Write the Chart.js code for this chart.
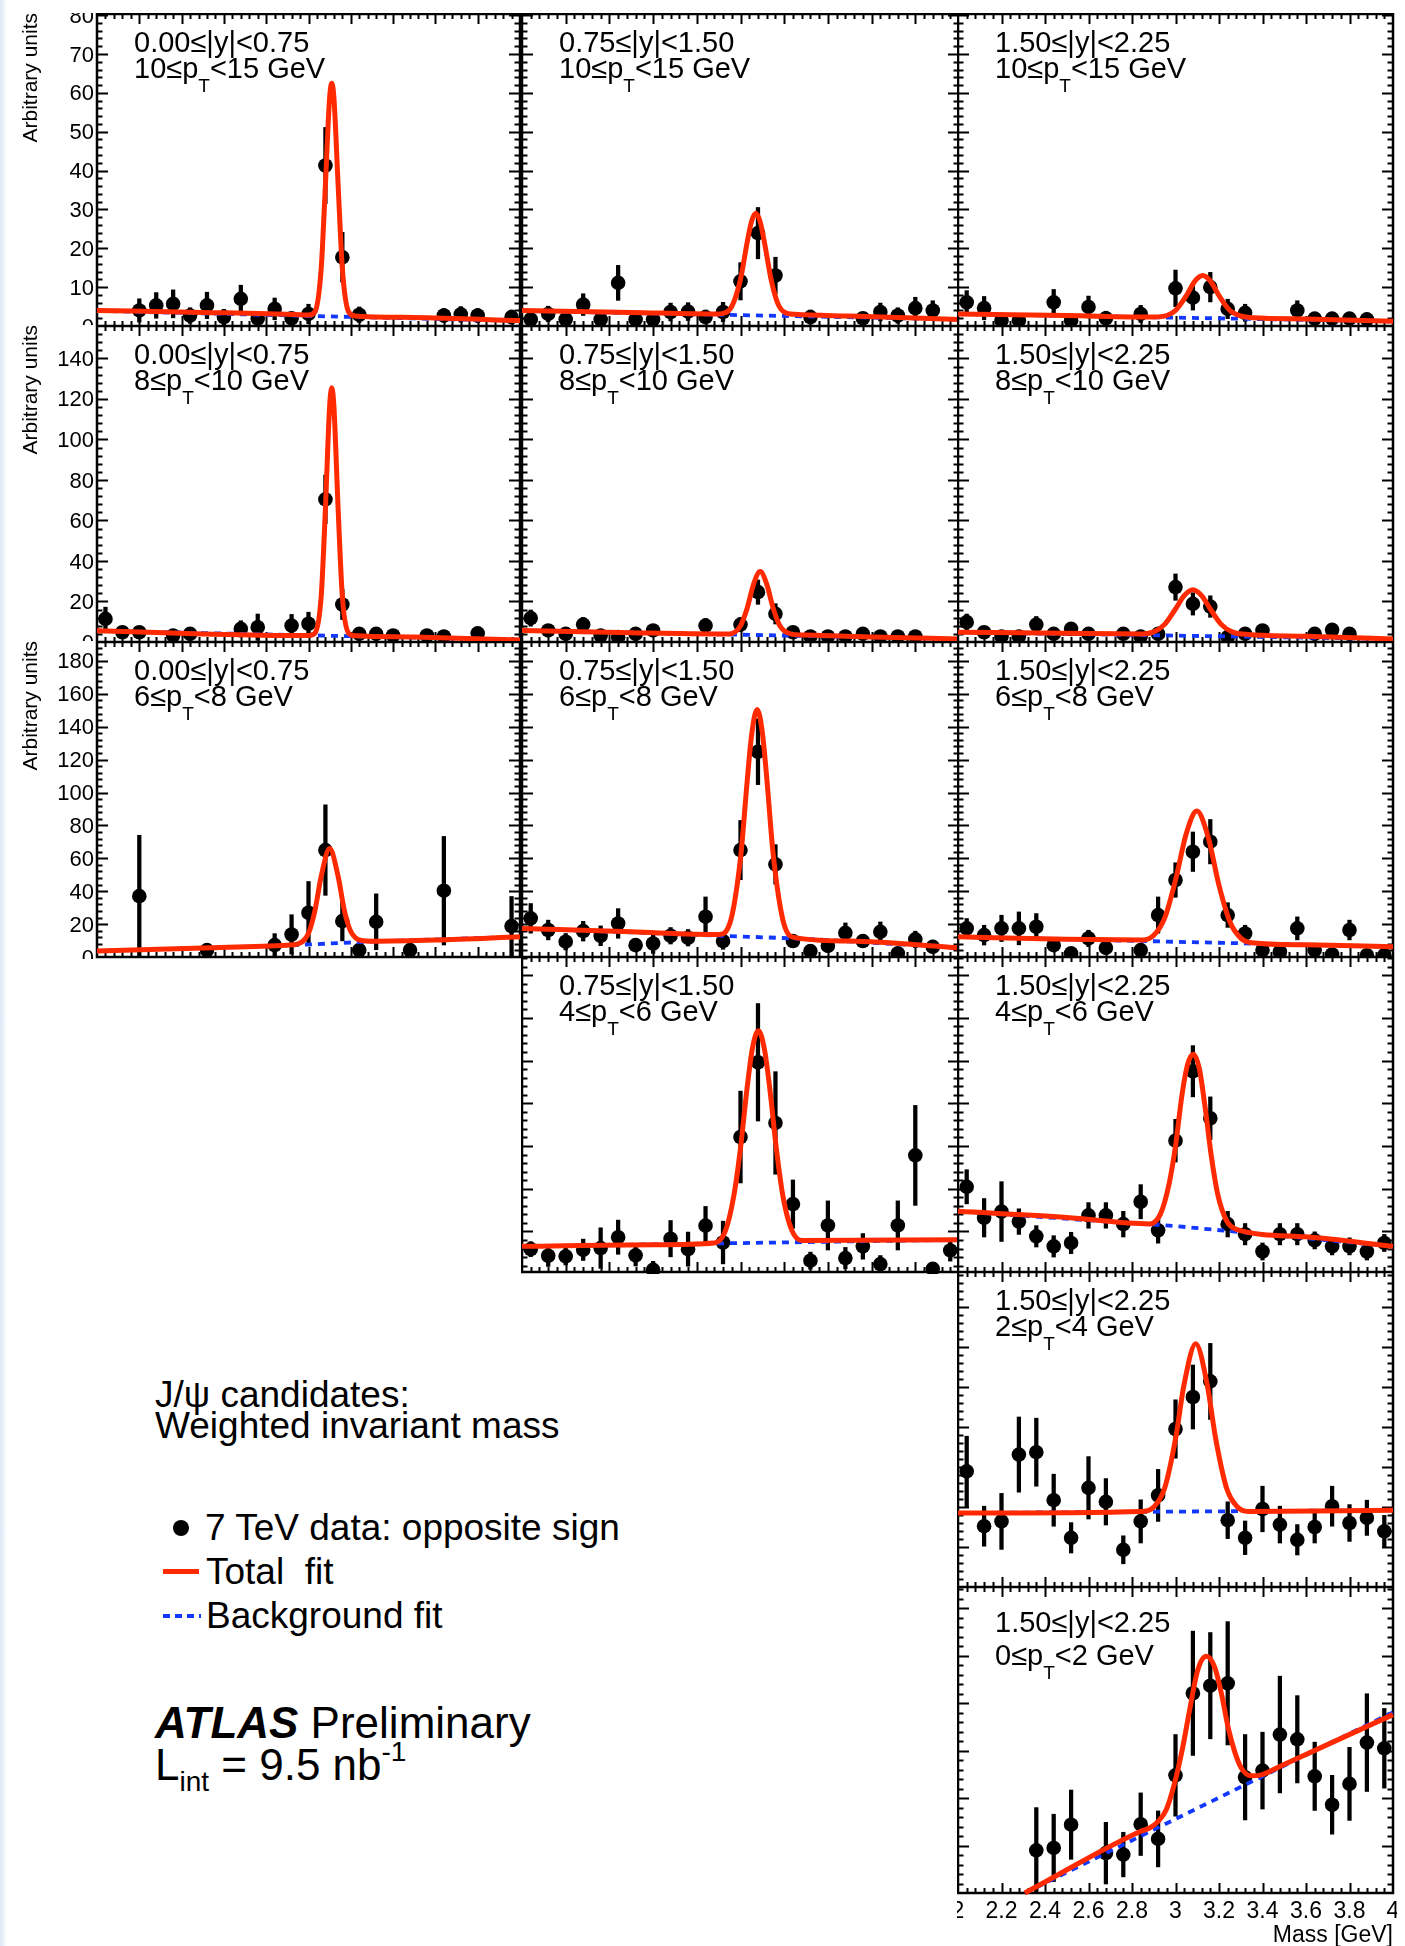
<!DOCTYPE html>
<html lang="en">
<head>
<meta charset="utf-8">
<title>J/ψ candidates: weighted invariant mass</title>
<script src="https://cdn.jsdelivr.net/npm/chart.js@4.4.1/dist/chart.umd.min.js"></script>
<style>
  html, body { margin: 0; padding: 0; background: #fff; }
  body { position: relative; width: 1405px; height: 1946px; overflow: hidden;
         font-family: "Liberation Sans", Arial, Helvetica, sans-serif; color: #000; }
  canvas { position: absolute; display: block; }
  .t { position: absolute; white-space: pre; color: #000; }
  .edge { position: absolute; left: 0; top: 0; width: 7px; height: 1946px; z-index: 5;
          background: linear-gradient(to right, #dde6f5, rgba(255,255,255,0)); }
</style>
</head>
<body>
<div class="edge"></div>
<script>
// ---------------------------------------------------------------------------
// Mass bin centres (GeV) shared by all histograms, and axis tick values
// ---------------------------------------------------------------------------
const MASS_BINS = [2.04, 2.12, 2.20, 2.28, 2.36, 2.44, 2.52, 2.60, 2.68, 2.76, 2.84, 2.92,
                   3.00, 3.08, 3.16, 3.24, 3.32, 3.40, 3.48, 3.56, 3.64, 3.72, 3.80, 3.88, 3.96];
const MASS_TICKS = [2, 2.2, 2.4, 2.6, 2.8, 3, 3.2, 3.4, 3.6, 3.8, 4];
const MASS_TICK_LABELS = ["2", "2.2", "2.4", "2.6", "2.8", "3", "3.2", "3.4", "3.6", "3.8", "4"];
const COUNT_TICKS_PT10 = [0, 10, 20, 30, 40, 50, 60, 70, 80];
const COUNT_TICKS_PT8  = [0, 20, 40, 60, 80, 100, 120, 140];
const COUNT_TICKS_PT6  = [0, 20, 40, 60, 80, 100, 120, 140, 160, 180];
const COUNT_TICKS_PT4  = [20, 40, 60, 80, 100, 120, 140];
const COUNT_TICKS_PT2  = [0, 10, 20, 30, 40, 50, 60, 70];
const COUNT_TICKS_PT0  = [0, 10, 20, 30, 40, 50, 60];

const RAPIDITY_BINS = ["0.00≤|y|<0.75", "0.75≤|y|<1.50", "1.50≤|y|<2.25"];
const PT_LOW  = ["10", "8", "6", "4", "2", "0"];
const PT_HIGH = ["15", "10", "8", "6", "4", "2"];

// ---------------------------------------------------------------------------
// Candidates per mass bin (arbitrary units), their errors, and fitted curves
// ---------------------------------------------------------------------------
// 0.00<=|y|<0.75, 10<=pT<15 GeV
const Y1_PT10       = [null, null, 4.0, 5.3, 5.7, 2.7, 5.3, 2.3, 7.0, 1.9, 4.4, 2.0, 3.1, 41.3, 17.7, 2.9, null, null, null, null, 2.7, 3.0, 2.7, null, 2.3];
const Y1_PT10_ERR   = [null, null, 3.0, 3.3, 3.6, 2.0, 3.4, 2.0, 3.5, 1.5, 2.8, 1.5, 2.5, 9.8, 6.4, 2.0, null, null, null, null, 1.8, 2.0, 1.8, null, 1.8];
const Y1_PT10_FIT_M = [2.00, 2.50, 2.96, 3.00, 3.03, 3.06, 3.08, 3.10, 3.11, 3.12, 3.14, 3.16, 3.19, 3.22, 3.50, 4.00];
const Y1_PT10_FIT   = [4.0, 3.5, 2.9, 2.8, 3.6, 14.8, 36.4, 58.9, 62.5, 58.9, 36.4, 14.8, 3.6, 2.6, 2.2, 1.4];
const Y1_PT10_BKG_M = [2.00, 4.00];
const Y1_PT10_BKG   = [3.9, 1.3];

// 0.75<=|y|<1.50, 10<=pT<15 GeV
const Y2_PT10       = [1.7, 3.1, 1.7, 5.5, 1.7, 11.1, 1.7, 1.7, 3.6, 3.7, 2.3, 3.6, 11.5, 23.9, 13.0, null, 2.3, null, null, 2.0, 3.6, 2.7, 4.6, 4.0, null];
const Y2_PT10_ERR   = [1.5, 2.0, 1.5, 2.8, 1.5, 4.5, 1.5, 1.5, 2.3, 2.3, 1.8, 2.5, 4.8, 6.6, 4.7, null, 1.8, null, null, 1.5, 2.3, 2.0, 2.8, 2.5, null];
const Y2_PT10_FIT_M = [2.00, 2.50, 2.90, 2.95, 3.00, 3.03, 3.05, 3.07, 3.09, 3.11, 3.14, 3.17, 3.20, 3.25, 3.50, 4.00];
const Y2_PT10_FIT   = [4.0, 3.5, 3.1, 4.2, 12.0, 21.4, 26.8, 29.0, 26.8, 21.4, 12.0, 5.9, 3.6, 3.0, 2.6, 1.7];
const Y2_PT10_BKG_M = [2.00, 4.00];
const Y2_PT10_BKG   = [3.9, 1.7];

// 1.50<=|y|<2.25, 10<=pT<15 GeV
const Y3_PT10       = [6.1, 4.6, 1.4, 1.4, null, 6.1, 1.4, 4.9, 2.0, null, 3.1, null, 9.7, 7.3, 10.0, 4.4, 3.4, null, null, 4.0, 1.9, 1.9, 1.9, 1.7, null];
const Y3_PT10_ERR   = [3.0, 3.0, 1.5, 1.5, null, 3.3, 1.5, 2.8, 1.8, null, 2.2, null, 4.7, 3.2, 3.8, 2.5, 2.2, null, null, 2.5, 1.6, 1.6, 1.6, 1.6, null];
const Y3_PT10_FIT_M = [2.00, 2.50, 2.90, 2.96, 3.00, 3.05, 3.09, 3.125, 3.16, 3.20, 3.25, 3.30, 3.36, 3.60, 4.00];
const Y3_PT10_FIT   = [3.1, 2.7, 2.3, 2.7, 4.0, 7.8, 11.6, 13.0, 11.6, 7.8, 4.0, 2.6, 2.1, 1.8, 1.2];
const Y3_PT10_BKG_M = [2.00, 4.00];
const Y3_PT10_BKG   = [3.1, 1.2];

// 0.00<=|y|<0.75, 8<=pT<10 GeV
const Y1_PT8        = [11.4, 4.8, 4.8, null, 3.2, 4.0, null, null, 6.5, 7.3, null, 8.1, 9.0, 70.4, 18.5, 4.0, 4.0, 3.2, null, 3.2, 2.7, null, 4.3, null, null];
const Y1_PT8_ERR    = [5.8, 3.0, 3.0, null, 2.5, 3.0, null, null, 4.0, 6.5, null, 5.5, 5.7, 12.0, 7.4, 3.0, 3.0, 2.5, null, 2.5, 2.5, null, 3.0, null, null];
const Y1_PT8_FIT_M  = [2.00, 2.50, 2.95, 3.00, 3.03, 3.06, 3.08, 3.10, 3.11, 3.12, 3.14, 3.16, 3.19, 3.22, 3.50, 4.00];
const Y1_PT8_FIT    = [5.6, 4.0, 3.2, 3.2, 4.3, 22.5, 66.0, 116.5, 125.5, 116.5, 66.0, 22.5, 4.3, 3.1, 2.5, 1.0];
const Y1_PT8_BKG_M  = [2.00, 4.00];
const Y1_PT8_BKG    = [5.5, 1.1];

// 0.75<=|y|<1.50, 8<=pT<10 GeV
const Y2_PT8        = [11.8, 5.7, 4.0, 8.6, 3.2, 2.4, 4.0, 5.7, null, null, 8.1, null, 8.6, 24.6, 13.9, 4.8, 2.7, 2.7, 2.7, 4.0, 2.7, 2.7, 2.7, null, null];
const Y2_PT8_ERR    = [4.0, 3.0, 2.5, 3.5, 2.2, 2.0, 2.5, 3.0, null, null, 3.5, null, 3.5, 6.0, 5.0, 2.8, 2.0, 2.0, 2.0, 2.5, 2.0, 2.0, 2.0, null, null];
const Y2_PT8_FIT_M  = [2.00, 2.50, 2.90, 2.95, 3.00, 3.03, 3.06, 3.09, 3.12, 3.15, 3.18, 3.23, 3.30, 3.60, 4.00];
const Y2_PT8_FIT    = [5.7, 4.6, 4.0, 4.0, 8.0, 16.5, 28.6, 34.8, 28.6, 16.5, 8.0, 4.0, 3.4, 2.5, 1.5];
const Y2_PT8_BKG_M  = [2.00, 4.00];
const Y2_PT8_BKG    = [5.7, 1.5];

// 1.50<=|y|<2.25, 8<=pT<10 GeV
const Y3_PT8        = [9.8, 4.8, 2.7, 2.7, 8.6, 4.0, 6.5, 4.0, null, 4.0, 2.7, 4.0, 27.1, 18.8, 17.5, 2.4, 4.0, 5.7, null, null, 4.0, 6.0, 4.0, null, null];
const Y3_PT8_ERR    = [4.0, 2.5, 2.0, 2.0, 4.0, 2.5, 3.0, 2.5, null, 2.5, 2.0, 2.5, 6.5, 5.5, 5.3, 2.0, 2.5, 3.0, null, null, 2.5, 3.0, 2.5, null, null];
const Y3_PT8_FIT_M  = [2.00, 2.50, 2.85, 2.90, 2.95, 3.00, 3.04, 3.08, 3.12, 3.16, 3.21, 3.26, 3.31, 3.60, 4.00];
const Y3_PT8_FIT    = [4.8, 4.3, 4.0, 5.0, 8.7, 16.3, 22.9, 25.8, 22.9, 16.3, 8.7, 5.0, 3.9, 2.8, 1.5];
const Y3_PT8_BKG_M  = [2.00, 4.00];
const Y3_PT8_BKG    = [4.8, 1.5];

// 0.00<=|y|<0.75, 6<=pT<8 GeV
const Y1_PT6        = [null, null, 37.0, null, null, null, 4.2, null, null, null, 7.2, 13.7, 26.9, 65.0, 21.8, 4.2, 21.4, null, 4.2, null, 40.3, null, null, null, 18.8];
const Y1_PT6_ERR    = [null, null, 37.0, null, null, null, 3.5, null, null, null, 7.0, 12.0, 19.0, 27.5, 12.0, 4.0, 17.0, null, 3.5, null, 33.0, null, null, null, 18.0];
const Y1_PT6_FIT_M  = [2.00, 2.50, 2.90, 2.95, 3.00, 3.03, 3.06, 3.10, 3.14, 3.17, 3.20, 3.25, 3.30, 3.60, 4.00];
const Y1_PT6_FIT    = [3.6, 5.5, 7.2, 8.0, 14.5, 28.0, 49.0, 66.0, 49.0, 28.0, 15.5, 10.0, 9.6, 10.3, 12.3];
const Y1_PT6_BKG_M  = [2.00, 2.50, 2.95, 3.30, 4.00];
const Y1_PT6_BKG    = [3.6, 5.5, 7.3, 9.4, 12.3];

// 0.75<=|y|<1.50, 6<=pT<8 GeV
const Y2_PT6        = [23.5, 16.4, 9.3, 15.7, 12.9, 20.4, 7.2, 8.2, 12.9, 11.7, 24.5, 9.7, 65.0, 124.8, 56.3, 9.7, 3.6, 6.8, 14.7, 9.7, 15.3, 2.2, 10.7, 6.2, null];
const Y2_PT6_ERR    = [9.0, 6.0, 5.0, 6.0, 6.0, 9.0, 4.0, 6.0, 5.0, 5.0, 12.0, 5.0, 18.0, 20.0, 12.0, 4.0, 3.0, 4.0, 6.0, 4.0, 6.0, 3.0, 5.0, 4.0, null];
const Y2_PT6_FIT_M  = [2.00, 2.50, 2.90, 2.95, 3.00, 3.03, 3.05, 3.076, 3.10, 3.12, 3.15, 3.20, 3.25, 3.50, 4.00];
const Y2_PT6_FIT    = [17.4, 15.3, 13.7, 20.0, 60.0, 106.0, 134.0, 150.5, 136.5, 109.0, 62.0, 19.5, 11.8, 9.7, 5.6];
const Y2_PT6_BKG_M  = [2.00, 2.90, 3.30, 4.00];
const Y2_PT6_BKG    = [17.4, 13.0, 11.0, 5.6];

// 1.50<=|y|<2.25, 6<=pT<8 GeV
const Y3_PT6        = [17.4, 13.3, 17.4, 17.4, 18.4, 7.2, 2.2, 11.3, 5.6, null, 4.2, 25.5, 46.8, 64.0, 70.1, 25.5, 14.3, 4.2, 3.2, 17.4, 4.2, 1.5, 16.4, 1.1, 1.1];
const Y3_PT6_ERR    = [6.0, 6.0, 8.0, 10.0, 8.0, 4.0, 3.0, 5.0, 4.0, null, 3.0, 11.0, 10.5, 12.0, 13.5, 7.5, 5.0, 3.0, 2.5, 7.0, 3.0, 2.0, 6.0, 2.0, 2.0];
const Y3_PT6_FIT_M  = [2.00, 2.50, 2.85, 2.90, 2.95, 3.00, 3.05, 3.098, 3.15, 3.20, 3.25, 3.30, 3.35, 3.60, 4.00];
const Y3_PT6_FIT    = [12.3, 10.8, 10.4, 13.2, 23.6, 46.7, 75.2, 88.7, 73.0, 43.5, 21.4, 11.5, 8.7, 7.4, 6.2];
const Y3_PT6_BKG_M  = [2.00, 4.00];
const Y3_PT6_BKG    = [12.3, 6.2];

// 0.75<=|y|<1.50, 4<=pT<6 GeV
const Y2_PT4        = [11.7, 8.6, 8.3, 11.4, 12.2, 17.3, 8.8, 2.0, 16.6, 11.7, 22.7, 14.8, 64.2, 99.2, 70.8, 32.8, 6.3, 22.8, 7.5, 13.0, 4.7, 22.8, 55.6, 2.5, 11.1];
const Y2_PT4_ERR    = [3.5, 5.0, 4.0, 5.0, 9.5, 8.0, 5.0, 4.0, 8.5, 8.0, 9.0, 10.0, 21.5, 27.5, 24.0, 11.3, 4.0, 11.5, 5.0, 6.0, 4.0, 11.5, 23.4, 3.0, 5.0];
const Y2_PT4_FIT_M  = [2.00, 2.60, 2.88, 2.93, 2.97, 3.00, 3.03, 3.055, 3.082, 3.11, 3.135, 3.165, 3.195, 3.235, 3.28, 4.00];
const Y2_PT4_FIT    = [13.0, 13.8, 14.6, 20.0, 37.0, 59.0, 87.0, 106.0, 114.0, 105.0, 86.0, 58.0, 36.0, 20.5, 15.8, 16.1];
const Y2_PT4_BKG_M  = [2.00, 4.00];
const Y2_PT4_BKG    = [13.0, 16.1];

// 1.50<=|y|<2.25, 4<=pT<6 GeV
const Y3_PT4        = [40.9, 26.4, 29.3, 24.6, 17.7, 13.0, 14.6, 27.5, 27.5, 23.4, 33.9, 20.5, 62.5, 95.0, 73.0, 23.4, 18.7, 10.6, 18.7, 18.7, 15.8, 13.0, 13.0, 10.6, 14.6];
const Y3_PT4_ERR    = [8.0, 9.0, 14.0, 6.0, 5.0, 5.0, 5.0, 6.0, 6.0, 6.0, 8.0, 6.0, 10.0, 12.0, 10.0, 6.0, 5.0, 4.0, 5.0, 5.0, 4.0, 4.0, 4.0, 4.0, 4.0];
const Y3_PT4_FIT_M  = [2.00, 2.50, 2.88, 2.93, 2.97, 3.00, 3.03, 3.055, 3.082, 3.11, 3.135, 3.165, 3.195, 3.235, 3.28, 3.60, 4.00];
const Y3_PT4_FIT    = [29.4, 26.5, 23.5, 28.0, 42.0, 60.0, 84.0, 98.0, 103.0, 96.0, 79.0, 55.0, 37.0, 25.0, 21.0, 17.5, 13.0];
const Y3_PT4_BKG_M  = [2.00, 3.00, 4.00];
const Y3_PT4_BKG    = [29.4, 22.5, 13.0];

// 1.50<=|y|<2.25, 2<=pT<4 GeV
const Y3_PT2        = [28.9, 15.2, 16.4, 33.1, 33.7, 21.7, 12.3, 24.8, 21.3, 9.3, 16.4, 22.9, 39.5, 47.5, 51.4, 16.7, 12.3, 19.5, 15.6, 11.8, 15.0, 20.2, 16.0, 17.3, 13.9];
const Y3_PT2_ERR    = [8.8, 5.0, 7.0, 9.4, 8.5, 6.5, 3.8, 7.8, 5.8, 3.5, 5.4, 6.5, 7.3, 8.0, 9.5, 4.6, 4.2, 5.7, 4.6, 3.8, 4.0, 5.0, 4.6, 4.4, 4.0];
const Y3_PT2_FIT_M  = [2.00, 2.85, 2.90, 2.95, 3.00, 3.04, 3.093, 3.145, 3.185, 3.235, 3.285, 3.335, 4.00];
const Y3_PT2_FIT    = [18.5, 18.9, 20.0, 24.7, 37.0, 50.8, 60.8, 50.8, 37.0, 24.7, 20.0, 18.9, 19.2];
const Y3_PT2_BKG_M  = [2.00, 4.00];
const Y3_PT2_BKG    = [18.5, 19.2];

// 1.50<=|y|<2.25, 0<=pT<2 GeV
const Y3_PT0        = [null, null, null, null, 9.0, 9.5, 14.4, null, 8.4, 8.1, 14.5, 11.4, 24.8, 42.1, 43.7, 44.2, 24.4, 25.8, 33.4, 32.4, 24.6, 18.6, 23.0, 31.7, 30.5];
const Y3_PT0_ERR    = [null, null, null, null, 9.0, 7.1, 7.3, null, 6.5, 4.7, 6.6, 5.9, 8.6, 13.1, 11.2, 13.0, 9.0, 8.1, 12.3, 9.2, 7.2, 6.2, 7.7, 10.3, 8.4];
const Y3_PT0_FIT_M  = [2.307, 2.84, 2.881, 2.92, 2.958, 2.996, 3.034, 3.065, 3.103, 3.142, 3.18, 3.211, 3.241, 3.272, 3.303, 3.349, 3.395, 3.494, 4.00];
const Y3_PT0_FIT    = [0.0, 13.0, 13.7, 15.1, 17.6, 23.2, 30.9, 38.6, 47.1, 49.9, 47.6, 42.1, 35.1, 29.8, 26.3, 24.7, 24.9, 27.0, 37.6];
const Y3_PT0_BKG_M  = [2.307, 4.00];
const Y3_PT0_BKG    = [0.0, 38.1];

const LEGEND_ENTRIES = ["7 TeV data: opposite sign", "Total  fit", "Background fit"];

// ---------------------------------------------------------------------------
// Page layout: frame edges of every pad (px) and vertical axis ranges per row
// ---------------------------------------------------------------------------
const COL_FRAMES = [[97, 520], [522, 959], [958, 1393]];
const ROW_FRAMES = [[14, 326], [326, 642], [642, 957], [957, 1272], [1272, 1587], [1587, 1893]];
const ROW_AXES = [
  { min: 0, max: 80.3,  ticks: COUNT_TICKS_PT10 },
  { min: 0, max: 156,   ticks: COUNT_TICKS_PT8 },
  { min: 0, max: 191.5, ticks: COUNT_TICKS_PT6 },
  { min: 1, max: 148.5, ticks: COUNT_TICKS_PT4 },
  { min: 0, max: 78.75, ticks: COUNT_TICKS_PT2 },
  { min: 0, max: 64.5,  ticks: COUNT_TICKS_PT0 }
];

const PANELS = [
  { row: 0, col: 0, v: Y1_PT10, e: Y1_PT10_ERR, fm: Y1_PT10_FIT_M, f: Y1_PT10_FIT, bm: Y1_PT10_BKG_M, b: Y1_PT10_BKG },
  { row: 0, col: 1, v: Y2_PT10, e: Y2_PT10_ERR, fm: Y2_PT10_FIT_M, f: Y2_PT10_FIT, bm: Y2_PT10_BKG_M, b: Y2_PT10_BKG },
  { row: 0, col: 2, v: Y3_PT10, e: Y3_PT10_ERR, fm: Y3_PT10_FIT_M, f: Y3_PT10_FIT, bm: Y3_PT10_BKG_M, b: Y3_PT10_BKG },
  { row: 1, col: 0, v: Y1_PT8,  e: Y1_PT8_ERR,  fm: Y1_PT8_FIT_M,  f: Y1_PT8_FIT,  bm: Y1_PT8_BKG_M,  b: Y1_PT8_BKG },
  { row: 1, col: 1, v: Y2_PT8,  e: Y2_PT8_ERR,  fm: Y2_PT8_FIT_M,  f: Y2_PT8_FIT,  bm: Y2_PT8_BKG_M,  b: Y2_PT8_BKG },
  { row: 1, col: 2, v: Y3_PT8,  e: Y3_PT8_ERR,  fm: Y3_PT8_FIT_M,  f: Y3_PT8_FIT,  bm: Y3_PT8_BKG_M,  b: Y3_PT8_BKG },
  { row: 2, col: 0, v: Y1_PT6,  e: Y1_PT6_ERR,  fm: Y1_PT6_FIT_M,  f: Y1_PT6_FIT,  bm: Y1_PT6_BKG_M,  b: Y1_PT6_BKG },
  { row: 2, col: 1, v: Y2_PT6,  e: Y2_PT6_ERR,  fm: Y2_PT6_FIT_M,  f: Y2_PT6_FIT,  bm: Y2_PT6_BKG_M,  b: Y2_PT6_BKG },
  { row: 2, col: 2, v: Y3_PT6,  e: Y3_PT6_ERR,  fm: Y3_PT6_FIT_M,  f: Y3_PT6_FIT,  bm: Y3_PT6_BKG_M,  b: Y3_PT6_BKG },
  { row: 3, col: 1, v: Y2_PT4,  e: Y2_PT4_ERR,  fm: Y2_PT4_FIT_M,  f: Y2_PT4_FIT,  bm: Y2_PT4_BKG_M,  b: Y2_PT4_BKG },
  { row: 3, col: 2, v: Y3_PT4,  e: Y3_PT4_ERR,  fm: Y3_PT4_FIT_M,  f: Y3_PT4_FIT,  bm: Y3_PT4_BKG_M,  b: Y3_PT4_BKG },
  { row: 4, col: 2, v: Y3_PT2,  e: Y3_PT2_ERR,  fm: Y3_PT2_FIT_M,  f: Y3_PT2_FIT,  bm: Y3_PT2_BKG_M,  b: Y3_PT2_BKG },
  { row: 5, col: 2, v: Y3_PT0,  e: Y3_PT0_ERR,  fm: Y3_PT0_FIT_M,  f: Y3_PT0_FIT,  bm: Y3_PT0_BKG_M,  b: Y3_PT0_BKG }
];

const RED = '#ff2a00';
const BLUE = '#1238ff';
const FONT = '"Liberation Sans", Arial, Helvetica, sans-serif';

// ---------------------------------------------------------------------------
// Helpers turning the arrays into Chart.js datasets
// ---------------------------------------------------------------------------
function xyPairs(m, v) {
  const out = [];
  for (let i = 0; i < m.length; i++) if (v[i] !== null) out.push({ x: m[i], y: v[i] });
  return out;
}
function errorRanges(m, v, e) {
  const out = [];
  for (let i = 0; i < m.length; i++) if (v[i] !== null) out.push({ x: m[i], y: [v[i] - e[i], v[i] + e[i]] });
  return out;
}

// ROOT-style frame: inward major/minor ticks on all four sides plus labels
const rootFrame = {
  id: 'rootFrame',
  beforeDraw(chart) {
    const ctx = chart.ctx;
    ctx.save();
    ctx.fillStyle = '#fff';
    ctx.fillRect(0, 0, chart.width, chart.height);
    ctx.restore();
  },
  beforeDatasetsDraw(chart) {
    const o = chart.options.plugins.rootFrame;
    const { ctx, chartArea: a } = chart;
    const xs = chart.scales.x, ys = chart.scales.y;
    ctx.save();
    ctx.strokeStyle = '#000';
    ctx.lineWidth = 2;
    ctx.beginPath();
    // mass axis: 0.2 GeV majors, 0.04 GeV minors
    for (let k = 51; k < 100; k++) {
      const px = Math.round(xs.getPixelForValue(k * 0.04)) + 0.5;
      const len = (k % 5 === 0) ? 10 : 5;
      ctx.moveTo(px, a.bottom); ctx.lineTo(px, a.bottom - len);
      ctx.moveTo(px, a.top);    ctx.lineTo(px, a.top + len);
    }
    // count axis: majors from the tick list, five subdivisions each
    const step = o.yTicks[1] - o.yTicks[0];
    const minor = step / 5;
    const k0 = Math.ceil(ys.min / minor - 1e-6), k1 = Math.floor(ys.max / minor + 1e-6);
    for (let k = k0; k <= k1; k++) {
      const v = k * minor;
      if (Math.abs(v - ys.min) < 1e-6 || Math.abs(v - ys.max) < 1e-6) continue;
      const py = Math.round(ys.getPixelForValue(v)) + 0.5;
      const len = (k % 5 === 0) ? 11 : 5.5;
      ctx.moveTo(a.left, py);  ctx.lineTo(a.left + len, py);
      ctx.moveTo(a.right, py); ctx.lineTo(a.right - len, py);
    }
    ctx.stroke();
    ctx.lineWidth = 2.5;
    ctx.strokeRect(a.left, a.top, a.right - a.left, a.bottom - a.top);

    ctx.fillStyle = '#000';
    if (o.yLabels) {
      ctx.font = '22px ' + FONT;
      ctx.textAlign = 'right';
      ctx.textBaseline = 'middle';
      o.yTicks.forEach(v => ctx.fillText(String(v), a.left - 3, ys.getPixelForValue(v) + 1.5));
      ctx.save();
      ctx.font = '21px ' + FONT;
      ctx.translate(37, a.top - 1);
      ctx.rotate(-Math.PI / 2);
      ctx.textAlign = 'right';
      ctx.textBaseline = 'alphabetic';
      ctx.fillText('Arbitrary units', 0, 0);
      ctx.restore();
    }
    if (o.xLabels) {
      ctx.font = '23px ' + FONT;
      ctx.textAlign = 'center';
      ctx.textBaseline = 'top';
      MASS_TICKS.forEach((v, i) => ctx.fillText(MASS_TICK_LABELS[i], xs.getPixelForValue(v), a.bottom + 7));
      ctx.font = '23px ' + FONT;
      ctx.textAlign = 'right';
      ctx.textBaseline = 'alphabetic';
      ctx.fillText('Mass [GeV]', a.right, a.bottom + 49);
    }
    ctx.restore();
  }
};

// ---------------------------------------------------------------------------
// One canvas / chart per pad
// ---------------------------------------------------------------------------
PANELS.forEach(p => {
  const [fx0, fx1] = COL_FRAMES[p.col];
  const [fy0, fy1] = ROW_FRAMES[p.row];
  const axis = ROW_AXES[p.row];
  const cl = p.col === 0 ? 0 : fx0 - 1;
  const cr = p.col === 2 ? 1397 : fx1 + 2;
  const ct = fy0 - 1;
  const cb = p.row === 5 ? 1946 : fy1 + 2;
  const cv = document.createElement('canvas');
  cv.width = cr - cl; cv.height = cb - ct;
  cv.style.left = cl + 'px'; cv.style.top = ct + 'px';
  cv.style.width = (cr - cl) + 'px'; cv.style.height = (cb - ct) + 'px';
  document.body.appendChild(cv);

  new Chart(cv, {
    type: 'scatter',
    data: {
      datasets: [
        { type: 'bar', data: errorRanges(MASS_BINS, p.v, p.e), backgroundColor: '#000', borderWidth: 0,
          barThickness: 3.6, grouped: false, order: 4, clip: false },
        { type: 'scatter', data: xyPairs(MASS_BINS, p.v), backgroundColor: '#000', borderWidth: 0,
          pointRadius: 7.3, pointHoverRadius: 7.3, order: 3, clip: false },
        { type: 'line', data: xyPairs(p.bm, p.b), borderColor: BLUE, borderWidth: 3.8, borderDash: [7, 6],
          pointRadius: 0, tension: 0, fill: false, order: 2, clip: false },
        { type: 'line', data: xyPairs(p.fm, p.f), borderColor: RED, borderWidth: 5,
          pointRadius: 0, cubicInterpolationMode: 'monotone', fill: false, order: 1, clip: false,
          borderJoinStyle: 'round', borderCapStyle: 'butt' }
      ]
    },
    options: {
      responsive: false,
      devicePixelRatio: 1,
      animation: false,
      events: [],
      layout: { autoPadding: false,
                padding: { left: fx0 - cl, right: cr - fx1, top: fy0 - ct, bottom: cb - fy1 } },
      scales: {
        x: { type: 'linear', min: 2, max: 4, display: false, offset: false },
        y: { type: 'linear', min: axis.min, max: axis.max, display: false }
      },
      plugins: {
        legend: { display: false },
        tooltip: { enabled: false },
        rootFrame: { yTicks: axis.ticks, yLabels: p.col === 0, xLabels: p.row === 5 }
      }
    },
    plugins: [rootFrame]
  });
});

// ---------------------------------------------------------------------------
// Text: pad captions, legend and experiment label
// ---------------------------------------------------------------------------
function addText(html, left, baseline, size, extra) {
  const d = document.createElement('div');
  d.className = 't';
  d.style.left = left + 'px';
  d.style.top = (baseline - 0.8465 * size) + 'px';
  d.style.fontSize = size + 'px';
  d.style.lineHeight = size + 'px';
  if (extra) Object.assign(d.style, extra);
  d.innerHTML = html;
  document.body.appendChild(d);
  return d;
}

PANELS.forEach(p => {
  const fx0 = COL_FRAMES[p.col][0];
  const fy0 = ROW_FRAMES[p.row][0];
  const b1 = p.row === 5 ? 46 : 39;
  const b2 = p.row === 5 ? 79 : 65;
  addText(RAPIDITY_BINS[p.col], fx0 + 37, fy0 + b1, 29);
  addText(PT_LOW[p.row] + '≤p<span style="position:relative;top:14px;font-size:19px">T</span>&lt;' +
          PT_HIGH[p.row] + ' GeV', fx0 + 37, fy0 + b2, 29);
});

addText('J/ψ candidates:', 155, 1407, 37);
addText('Weighted invariant mass', 155, 1438, 37);

// legend symbols
const dot = document.createElement('div');
Object.assign(dot.style, { position: 'absolute', left: '173px', top: '1520px', width: '16px', height: '16px',
  borderRadius: '50%', background: '#000' });
document.body.appendChild(dot);
const redBar = document.createElement('div');
Object.assign(redBar.style, { position: 'absolute', left: '163px', top: '1568.5px', width: '36px', height: '5px', background: RED });
document.body.appendChild(redBar);
const dash = document.createElementNS('http://www.w3.org/2000/svg', 'svg');
dash.setAttribute('width', '40'); dash.setAttribute('height', '8');
Object.assign(dash.style, { position: 'absolute', left: '163px', top: '1612px' });
dash.innerHTML = '<line x1="0" y1="4" x2="38" y2="4" stroke="' + BLUE + '" stroke-width="4" stroke-dasharray="7 5"/>';
document.body.appendChild(dash);

addText(LEGEND_ENTRIES[0], 205, 1540.5, 37);
addText(LEGEND_ENTRIES[1], 206, 1584.5, 37);
addText(LEGEND_ENTRIES[2], 206, 1628.5, 37);

addText('<b><i>ATLAS</i></b> Preliminary', 155, 1738, 44);
addText('L<span style="position:relative;top:11px;font-size:28px">int</span> = 9.5 nb<span style="position:relative;top:-19px;font-size:28px">-1</span>',
        155, 1780, 44);
</script>
</body>
</html>
